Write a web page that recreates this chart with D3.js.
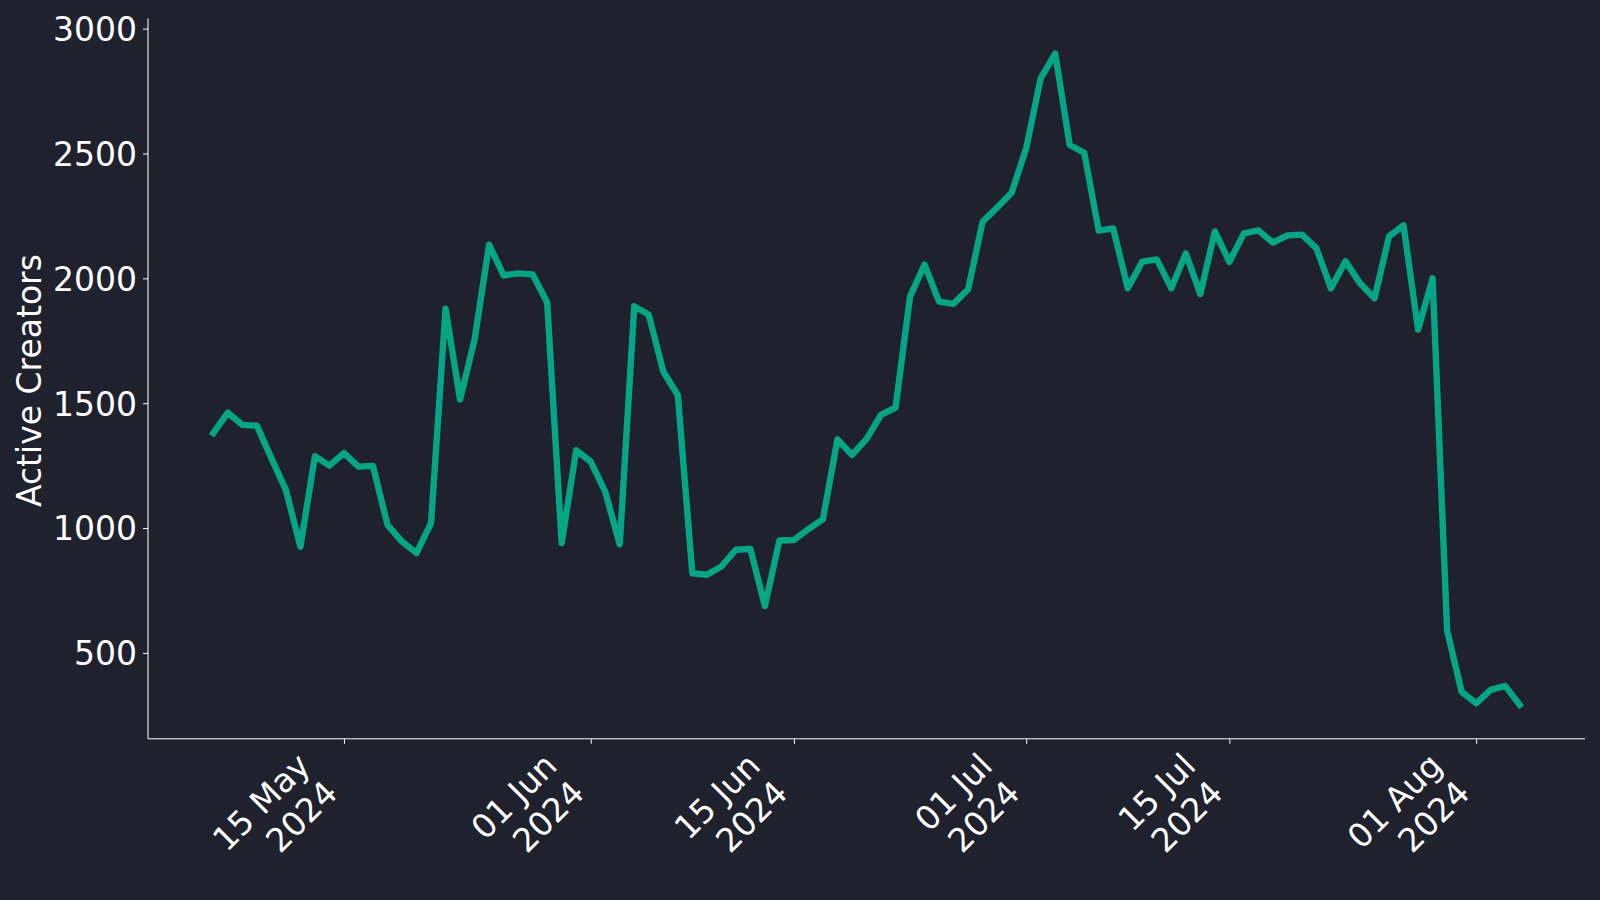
<!DOCTYPE html>
<html>
<head>
<meta charset="utf-8">
<script src="https://cdn.jsdelivr.net/npm/d3@7"></script>
<style>
  html, body { margin: 0; padding: 0; background: #1f222d; }
  svg { display: block; }
  text { font-family: "DejaVu Sans", sans-serif; fill: #ffffff; }
</style>
</head>
<body>
<svg id="chart" width="1600" height="900"></svg>
<script>
// ---- data ----
const startDate = "2024-05-06";
const endDate = "2024-08-04";
const activeCreators = [
  1380, 1462, 1413, 1410, 1280, 1153, 925, 1288, 1250, 1300,
  1246, 1249, 1013, 946, 900, 1020, 1878, 1515, 1755, 2135,
  2012, 2020, 2016, 1903, 940, 1312, 1266, 1146, 935, 1888,
  1854, 1627, 1533, 819, 813, 846, 913, 916, 688, 950,
  952, 996, 1036, 1355, 1293, 1356, 1453, 1482, 1927, 2055,
  1907, 1898, 1956, 2227, 2284, 2343, 2521, 2801, 2900, 2534,
  2503, 2191, 2200, 1960, 2067, 2076, 1960, 2100, 1937, 2188,
  2066, 2180, 2192, 2143, 2172, 2175, 2120, 1960, 2068, 1980,
  1920, 2168, 2212, 1795, 2000, 590, 344, 298, 352, 368,
  292
];
const xTickDates = ["2024-05-15", "2024-06-01", "2024-06-15", "2024-07-01", "2024-07-15", "2024-08-01"];
const yTicks = [500, 1000, 1500, 2000, 2500, 3000];
const yLabel = "Active Creators";

// ---- layout ----
const plot = { left: 148, right: 1585, top: 18.4, bottom: 738.8 };
const lineColor = "#06a586";
const fontSize = "33px";

const parse = d3.utcParse("%Y-%m-%d");
const d0 = parse(startDate), d1 = parse(endDate);
const dates = d3.utcDay.range(d0, d3.utcDay.offset(d1, 1));
const data = dates.map((d, i) => ({ date: d, value: activeCreators[i] }));

const padMs = 4.5 * 864e5;
const x = d3.scaleUtc()
  .domain([new Date(+d0 - padMs), new Date(+d1 + padMs)])
  .range([plot.left, plot.right]);
const y = d3.scaleLinear()
  .domain([156, 3041])
  .range([plot.bottom, plot.top]);

const svg = d3.select("#chart");
svg.append("rect").attr("width", 1600).attr("height", 900).attr("fill", "#1f222d");

// line
const line = d3.line().x(d => x(d.date)).y(d => y(d.value));
svg.append("path")
  .datum(data)
  .attr("d", line)
  .attr("fill", "none")
  .attr("stroke", lineColor)
  .attr("stroke-width", 6.4)
  .attr("stroke-linejoin", "round")
  .attr("stroke-linecap", "square");

// y axis
const yAxis = d3.axisLeft(y).tickValues(yTicks).tickSize(5).tickPadding(6).tickFormat(d3.format("d"));
const gy = svg.append("g").attr("transform", `translate(${plot.left},0)`).call(yAxis);
gy.select(".domain").remove();
gy.selectAll(".tick line").attr("stroke", "#ffffff").attr("stroke-width", 1);
gy.selectAll(".tick text")
  .attr("fill", "#ffffff")
  .style("font-family", "'DejaVu Sans', sans-serif")
  .style("font-size", fontSize)
  .attr("dy", "0.36em");

// x axis
const xTicks = xTickDates.map(parse);
const xAxis = d3.axisBottom(x).tickValues(xTicks).tickSize(5).tickFormat(() => "");
const gx = svg.append("g").attr("transform", `translate(0,${plot.bottom})`).call(xAxis);
gx.select(".domain").remove();
gx.selectAll(".tick line").attr("stroke", "#ffffff").attr("stroke-width", 1);

// spines
svg.append("line").attr("x1", plot.left).attr("x2", plot.left).attr("y1", plot.top).attr("y2", plot.bottom)
  .attr("stroke", "#ffffff").attr("stroke-width", 1);
svg.append("line").attr("x1", plot.left).attr("x2", plot.right).attr("y1", plot.bottom).attr("y2", plot.bottom)
  .attr("stroke", "#ffffff").attr("stroke-width", 1);

// rotated x tick labels (two lines, right aligned, rotated 45deg)
const fmtTop = d3.utcFormat("%d %b");
const fmtBot = d3.utcFormat("%Y");
const svgRect = svg.node().getBoundingClientRect();
xTicks.forEach(t => {
  const g = svg.append("g").attr("transform", "rotate(-45)");
  const txt = g.append("text").attr("text-anchor", "end").style("font-size", fontSize);
  txt.append("tspan").attr("x", 0).attr("dy", 0).text(fmtTop(t));
  txt.append("tspan").attr("x", 0).attr("dy", "1.17em").text(fmtBot(t));
  const bb = g.node().getBoundingClientRect();
  const right = bb.right - svgRect.left;
  const top = bb.top - svgRect.top;
  const tx = x(t) + 1 - right;
  const ty = plot.bottom + 7 - top;
  g.attr("transform", `translate(${tx},${ty}) rotate(-45)`);
});

// y label
svg.append("text")
  .attr("transform", `translate(41,${(plot.top + plot.bottom) / 2 + 2}) rotate(-90)`)
  .attr("text-anchor", "middle")
  .style("font-size", fontSize)
  .text(yLabel);
</script>
</body>
</html>
